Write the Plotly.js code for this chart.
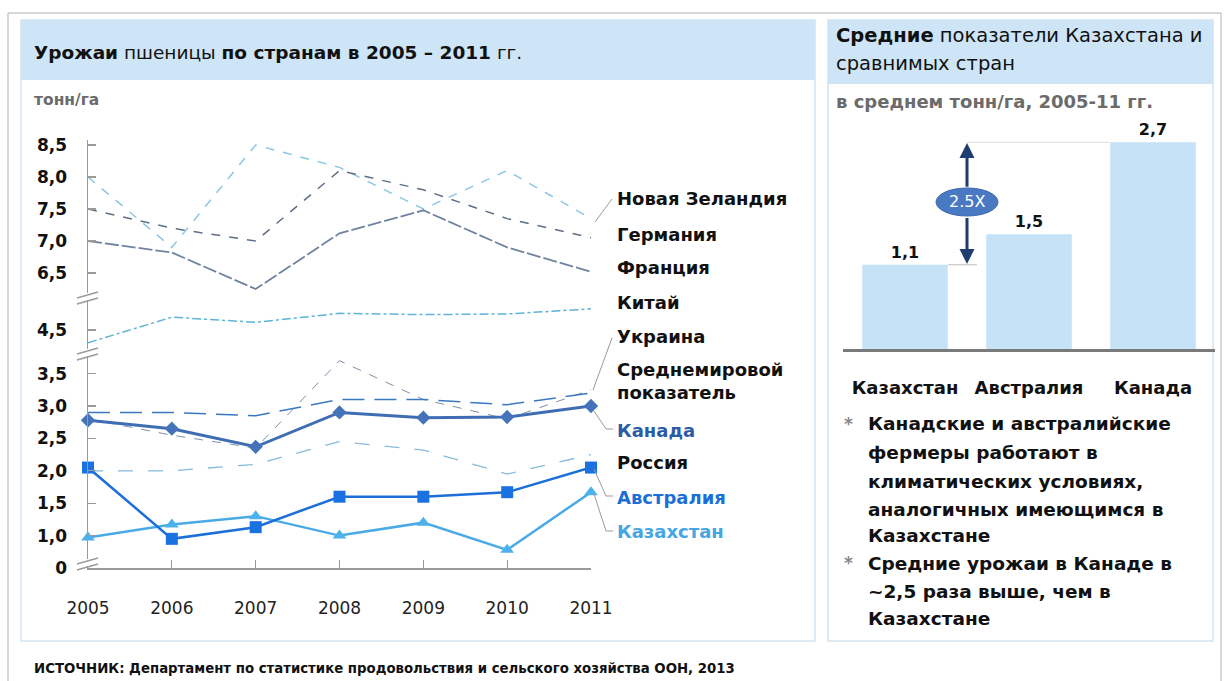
<!DOCTYPE html>
<html><head><meta charset="utf-8">
<script src="https://cdn.plot.ly/plotly-3.0.1.min.js"></script>
<style>html,body{margin:0;padding:0;background:#fff}#chart{width:1225px;height:681px}</style>
</head><body><div id="chart"></div>
<script>
// ---------- data ----------
const years = [2005, 2006, 2007, 2008, 2009, 2010, 2011];
const newZealand = [8.0, 6.9, 8.5, 8.15, 7.5, 8.1, 7.35];
const germany    = [7.5, 7.2, 7.0, 8.1, 7.8, 7.35, 7.05];
const france     = [7.0, 6.82, 6.25, 7.12, 7.48, 6.9, 6.52];
const china      = [4.3, 4.7, 4.62, 4.76, 4.74, 4.75, 4.83];
const ukraine    = [2.8, 2.55, 2.35, 3.7, 3.1, 2.8, 3.25];
const world      = [2.9, 2.9, 2.85, 3.1, 3.1, 3.02, 3.2];
const canada     = [2.78, 2.65, 2.37, 2.9, 2.82, 2.83, 3.0];
const russia     = [2.0, 2.0, 2.1, 2.45, 2.32, 1.95, 2.25];
const australia  = [2.05, 0.95, 1.13, 1.6, 1.6, 1.67, 2.05];
const kazakhstan = [0.97, 1.17, 1.3, 1.0, 1.2, 0.78, 1.67];

const topTicks = [6.5, 7.0, 7.5, 8.0, 8.5];
const midTicks = [4.5];
const lowTicks = [0.5, 1.0, 1.5, 2.0, 2.5, 3.0, 3.5];
const lowTickText = ['0', '1,0', '1,5', '2,0', '2,5', '3,0', '3,5'];

const barCountries = ['Казахстан', 'Австралия', 'Канада'];
const barValues = [1.1, 1.5, 2.7];

const seriesLabels = ['Новая Зеландия', 'Германия', 'Франция', 'Китай', 'Украина',
  'Среднемировой<br>показатель', 'Канада', 'Россия', 'Австралия', 'Казахстан'];

// ---------- helpers ----------
const W = 1225, H = 681;
const X = p => p / W, Y = p => 1 - p / H;
const fmt = v => v.toFixed(1).replace('.', ',');
const F = 'DejaVu Sans, Open Sans, sans-serif';

function line(x, y, yaxis, color, dash, width, marker) {
  const t = {x: x, y: y, xaxis: 'x', yaxis: yaxis, type: 'scatter',
    mode: marker ? 'lines+markers' : 'lines', cliponaxis: false,
    line: {color: color, dash: dash, width: width}, hoverinfo: 'skip'};
  if (marker) t.marker = marker;
  return t;
}

const traces = [
  line(years, newZealand, 'y', '#8cc6e6', 'dash', 1.5),
  line(years, germany, 'y', '#5d6f86', 'dash', 1.5),
  line(years, france, 'y', '#6f83a0', '14px,3px', 1.8),
  line(years, china, 'y2', '#5fb3d6', 'dashdot', 1.5),
  line(years, ukraine, 'y3', '#7b8fa8', 'dash', 1),
  line(years, world, 'y3', '#3b78c2', '22px,10px', 1.5),
  line(years, russia, 'y3', '#86bade', 'longdash', 1.3),
  line(years, canada, 'y3', '#3f6db4', 'solid', 3, {symbol: 'diamond', size: 11, color: '#4573ba'}),
  line(years, kazakhstan, 'y3', '#4aaae6', 'solid', 2.5, {symbol: 'triangle-up', size: 12, color: '#4db2ec'}),
  line(years, australia, 'y3', '#1c6fd8', 'solid', 2.5, {symbol: 'square', size: 12, color: '#1a72e0'}),
  {x: barCountries, y: barValues, xaxis: 'x2', yaxis: 'y4', type: 'bar',
   marker: {color: '#c5e2f7'}, text: barValues.map(fmt), textposition: 'outside',
   textfont: {family: F, size: 16, color: '#111', weight: 'bold'}, cliponaxis: false, hoverinfo: 'skip'}
];

const gray = '#9a9a9a';
const yBase = {showline: true, linecolor: gray, linewidth: 1.5, showgrid: false, zeroline: false,
  ticks: 'inside', ticklen: 8, tickcolor: gray, tickwidth: 1.2, anchor: 'x', fixedrange: true,
  tickfont: {family: F, size: 17, color: '#111', weight: 'bold'}, ticklabelstandoff: 16};

const shapes = [];
function rect(x0, y0, x1, y1, fill, lc, lw) {
  shapes.push({type: 'rect', xref: 'paper', yref: 'paper', x0: X(x0), x1: X(x1), y0: Y(y1), y1: Y(y0),
    fillcolor: fill, line: {color: lc || 'rgba(0,0,0,0)', width: lw || 0}, layer: 'below'});
}
function seg(x0, y0, x1, y1, color, w) {
  shapes.push({type: 'line', xref: 'paper', yref: 'paper', x0: X(x0), y0: Y(y0), x1: X(x1), y1: Y(y1),
    line: {color: color, width: w}});
}
function path(pts, color, w) {
  const d = pts.map((p, i) => (i ? 'L' : 'M') + X(p[0]) + ',' + Y(p[1])).join(' ');
  shapes.push({type: 'path', xref: 'paper', yref: 'paper', path: d, line: {color: color, width: w}});
}

// frame & panels
rect(8, 13, 1221, 690, 'rgba(0,0,0,0)', '#b0b0b0', 1);
rect(21, 20, 815, 641, '#ffffff', '#d3e3f0', 1.5);
rect(828, 20, 1213, 641, '#ffffff', '#d3e3f0', 1.5);
rect(21, 20, 815, 80, '#cde5f7');
rect(828, 20, 1213, 84, '#cde5f7');

// axis breaks
[296, 352, 562].forEach(p => {
  shapes.push({type: 'rect', xref: 'paper', yref: 'paper', x0: X(84), x1: X(93), y0: Y(p + 4), y1: Y(p - 3),
    fillcolor: '#fff', line: {width: 0}});
  seg(77, p + 2, 98, p - 4, gray, 1.5);
  seg(77, p + 8, 98, p + 2, gray, 1.5);
});

// leader lines
path([[595, 222], [612, 199]], gray, 1);
path([[593, 390], [612, 338]], gray, 1);
path([[594, 411], [606, 429], [613, 429]], gray, 1);
path([[594, 469], [606, 496], [613, 496]], gray, 1);
path([[594, 494], [606, 531], [613, 531]], gray, 1);

// helper lines in the bar panel
shapes.push({type: 'line', xref: 'x2', yref: 'y4', x0: 0.35, x1: 0.58, y0: barValues[0], y1: barValues[0], line: {color: '#bbbbbb', width: 1}});
shapes.push({type: 'line', xref: 'x2', yref: 'y4', x0: 0.5, x1: 1.65, y0: barValues[2], y1: barValues[2], line: {color: '#dddddd', width: 1}});
// ellipse
shapes.push({type: 'circle', xref: 'paper', yref: 'paper', x0: X(936), x1: X(998), y0: Y(216), y1: Y(188),
  fillcolor: '#4a79c4', line: {color: '#3d68ad', width: 1}});

const ann = [];
function txt(x, y, text, size, color, weight, xanchor) {
  ann.push({xref: 'paper', yref: 'paper', x: X(x), y: Y(y), text: text, showarrow: false,
    xanchor: xanchor || 'left', yanchor: 'middle', align: 'left',
    font: {family: F, size: size, color: color, weight: weight || 'normal'}});
}
txt(32, 52, '<b>Урожаи</b> пшеницы <b>по странам в 2005 – 2011</b> гг.', 18.5, '#111');
txt(32, 100, 'тонн/га', 15.5, '#6b6b6b', 'bold');
txt(834, 36, '<b>Средние</b> показатели Казахстана и', 19.5, '#111');
txt(834, 63, 'сравнимых стран', 19.5, '#111');
txt(834, 101, 'в среднем тонн/га, 2005-11 гг.', 18, '#6b6b6b', 'bold');
txt(32, 668, 'ИСТОЧНИК: Департамент по статистике продовольствия и сельского хозяйства ООН, 2013', 13.3, '#111', 'bold');

const labelY = [198, 234, 268, 302, 336, 381, 430, 462, 497, 531];
const labelC = ['#111', '#111', '#111', '#111', '#111', '#111', '#2c5ca6', '#111', '#1c6fd8', '#46a6e2'];
seriesLabels.forEach((s, i) => txt(615, labelY[i], s, 18, labelC[i], 'bold'));

// notes
const notes = [['*', 'Канадские и австралийские', 424], ['', 'фермеры работают в', 453], ['', 'климатических условиях,', 481],
  ['', 'аналогичных имеющимся в', 509], ['', 'Казахстане', 535], ['*', 'Средние урожаи в Канаде в', 563],
  ['', '~2,5 раза выше, чем в', 591], ['', 'Казахстане', 618]];
notes.forEach(n => { if (n[0]) txt(842, n[2], '*', 17, '#888', 'bold'); txt(866, n[2], n[1], 18.5, '#111', 'bold'); });

// 2.5X label and arrows
txt(967, 202, '2.5X', 16, '#ffffff', 'normal', 'center');
ann.push({xref: 'x2', yref: 'y4', axref: 'x2', ayref: 'y4', x: 0.5, y: 2.69, ax: 0.5, ay: 2.1, text: '',
  showarrow: true, arrowhead: 2, arrowsize: 1, arrowwidth: 3, arrowcolor: '#1f3d70', standoff: 0, startstandoff: 0});
ann.push({xref: 'x2', yref: 'y4', axref: 'x2', ayref: 'y4', x: 0.5, y: 1.11, ax: 0.5, ay: 1.73, text: '',
  showarrow: true, arrowhead: 2, arrowsize: 1, arrowwidth: 3, arrowcolor: '#1f3d70', standoff: 0, startstandoff: 0});

const layout = {
  width: W, height: H, margin: {l: 0, r: 0, t: 0, b: 0}, showlegend: false,
  paper_bgcolor: '#ffffff', plot_bgcolor: 'rgba(0,0,0,0)', separators: ', ',
  xaxis: {domain: [X(88), X(591)], range: [2005, 2011], anchor: 'y3', showline: true, linecolor: gray, linewidth: 1.5,
    showgrid: false, zeroline: false, tickvals: years, ticks: 'inside', ticklen: 8, tickcolor: gray,
    tickfont: {family: F, size: 17, color: '#222'}, ticklabelstandoff: 24, fixedrange: true},
  yaxis: Object.assign({}, yBase, {domain: [Y(296), Y(140)], range: [6.141, 8.578], tickvals: topTicks, ticktext: topTicks.map(fmt)}),
  yaxis2: Object.assign({}, yBase, {domain: [Y(352), Y(296)], range: [4.156, 5.031], tickvals: midTicks, ticktext: midTicks.map(fmt)}),
  yaxis3: Object.assign({}, yBase, {domain: [Y(568), Y(352)], range: [0.5, 3.833], tickvals: lowTicks, ticktext: lowTickText}),
  xaxis2: {domain: [X(843), X(1215)], range: [-0.5, 2.5], anchor: 'y4', type: 'category', showline: true,
    linecolor: '#7a7a7a', linewidth: 3, ticks: '', showgrid: false, zeroline: false, fixedrange: true,
    tickfont: {family: F, size: 18, color: '#111', weight: 'bold'}, ticklabelstandoff: 20},
  yaxis4: {domain: [Y(349), Y(127)], range: [0, 2.9], anchor: 'x2', visible: false, fixedrange: true},
  bargap: 0.31,
  shapes: shapes, annotations: ann
};
Plotly.newPlot('chart', traces, layout, {staticPlot: true});
</script></body></html>
